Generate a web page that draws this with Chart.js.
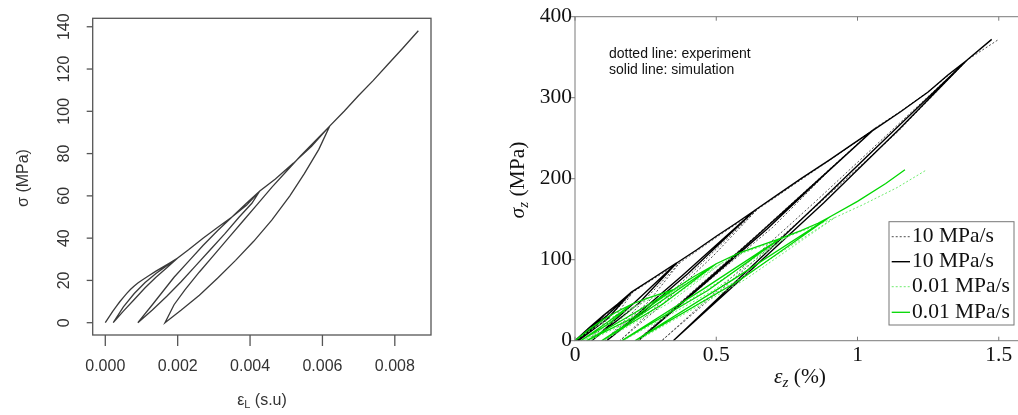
<!DOCTYPE html>
<html><head><meta charset="utf-8">
<script src="https://cdn.jsdelivr.net/npm/chart.js@4.4.0/dist/chart.umd.min.js"></script>
<style>
html,body{margin:0;padding:0;background:#fff;overflow:hidden;width:1018px;height:415px;}
#wrapL{position:absolute;left:0;top:0;width:460px;height:415px;}
#wrapR{position:absolute;left:500px;top:0;width:540px;height:415px;}
canvas{display:block;}
</style></head><body>
<div id="wrapL"><canvas id="left" width="460" height="415" style="width:460px;height:415px"></canvas></div>
<div id="wrapR"><canvas id="right" width="540" height="415" style="width:540px;height:415px"></canvas></div>
<script>
// ---------- LEFT PANEL DATA ----------
const leftStrain = [0,0.0001,0.0002,0.0003,0.0004,0.0005,0.0006,0.0007,0.0008,0.0009,0.001,0.0012,0.0014,0.0016,0.0018,0.002,
  0.0017,0.0014,0.0011,0.0008,0.0005,0.00022,
  0.0005,0.0008,0.0011,0.0014,0.0017,0.002,0.0023,0.0027,0.0031,0.0035,0.0039,0.00427,
  0.0039,0.0035,0.0031,0.0027,0.0023,0.0019,0.0016,0.0013,0.0009,
  0.0013,0.0017,0.0021,0.0025,0.0029,0.0033,0.0037,0.00405,0.00427,0.0047,0.0052,0.0057,0.0062,
  0.0058,0.0054,0.005,0.0046,0.0042,0.0038,0.0034,0.003,0.0026,0.0022,0.0019,0.00165,
  0.0021,0.0026,0.0031,0.0036,0.0041,0.0046,0.0051,0.0055,0.0059,0.0062,0.0066,0.007,0.0074,0.0078,0.0082,0.00865];
const leftStress = [0,2.6,5.2,7.6,9.9,12,14,15.8,17.4,18.8,20,22.2,24.4,26.4,28.5,30.6,
  27,23.3,19,13.8,7.5,0,
  5.5,11,16.5,21.5,26,30.6,34.5,40,45,50,55.5,62.3,
  56.5,50,43.5,36.5,29,21.5,15,8.5,0,
  6,12.5,19.5,27,34.5,42,50,56.5,62.3,68,75.5,83.5,93,
  86,79,71.5,64,56,48,40,32,24,15.5,8.5,0,
  6,13,21,29.5,38.5,48.5,60,70.5,82,93,100,107.5,114.5,122,129.5,138.1];
const leftXTicks = [0,0.002,0.004,0.006,0.008];
const leftXTickLabels = ['0.000','0.002','0.004','0.006','0.008'];
const leftYTicks = [0,20,40,60,80,100,120,140];

// ---------- RIGHT PANEL DATA ----------
const blackExpStrain = [0,0.05,0.105, 0.06,0.01, 0.065,0.105, 0.155,0.205, 0.13,0.047, 0.14,0.205, 0.29,0.37, 0.243,0.106,
  0.26,0.37, 0.44,0.51,0.58,0.645, 0.405,0.159, 0.3,0.49,0.645, 0.73,0.81,0.91,0.99,1.06, 0.645,0.218,
  0.46,0.7,0.9,1.06, 1.16,1.26,1.33,1.39, 0.855,0.307, 0.58,0.86,1.14,1.39,1.5];
const blackExpStress = [0,16,31, 16,0, 14,31, 45,60, 32,0, 29,60, 79,96, 49,0,
  48,96, 113,130,146,162, 81,0, 42,105,162, 182,201,225,244,262, 131,0,
  70,140,210,262, 285,310,330,347, 173,0, 82,168,257,347,372];
const blackSimStrain = [0,0.05,0.1, 0.058,0.005, 0.06,0.1, 0.15,0.2, 0.11,0.012, 0.115,0.2, 0.28,0.36, 0.214,0.059,
  0.225,0.36, 0.43,0.5,0.57,0.637, 0.38,0.112, 0.25,0.4,0.637, 0.72,0.8,0.9,0.98,1.056, 0.645,0.224,
  0.45,0.68,0.88,1.056, 1.15,1.25,1.32,1.386, 0.872,0.348, 0.6,0.88,1.15,1.386,1.475];
const blackSimStress = [0,16,31, 16,0, 14,31, 45,60, 30,0, 27,60, 78,96, 48,0,
  46,96, 112,129,145,161, 80.5,0, 38,83,161, 181,200,223,242,260, 130,0,
  68,138,204,260, 282,307,328,346, 173,0, 80,170,262,346,372];
const greenExpStrain = [0,0.06,0.12,0.18,0.22, 0.13,0.03, 0.14,0.22, 0.29,0.36, 0.21,0.05, 0.23,0.36, 0.44,0.52,
  0.32,0.1, 0.33,0.52, 0.6,0.68,0.75, 0.47,0.17, 0.49,0.75, 0.83,0.88,0.92, 0.58,0.22, 0.6,0.92,1.02,1.14,1.245];
const greenExpStress = [0,14,27,37,44, 22,0, 20,44, 55,64, 31,0, 30,64, 80,96,
  48,0, 46,96, 109,119,128, 64,0, 62,128, 139,146,152, 76,0, 75,152,168,189,211];
const greenSimStrain = [0,0.05,0.1,0.15,0.2, 0.116,0.02, 0.12,0.2, 0.27,0.348, 0.2,0.041, 0.21,0.348, 0.42,0.5,
  0.302,0.094, 0.31,0.5, 0.58,0.66,0.726, 0.455,0.165, 0.47,0.726, 0.8,0.86,0.903, 0.562,0.212, 0.58,0.903,1.0,1.1,1.168];
const greenSimStress = [0,14,26,36,45, 23,0, 21,45, 54,63, 32,0, 29,63, 79,95,
  48,0, 45,95, 108,118,126, 64,0, 62,126, 136,145,153, 76,0, 74,153,172,194,211];
const rightXTicks = [0,0.5,1,1.5];
const rightXTickLabels = ['0','0.5','1','1.5'];
const rightYTicks = [0,100,200,300,400];
const legendLabels = ['10 MPa/s','10 MPa/s','0.01 MPa/s','0.01 MPa/s'];
const noteLines = ['dotted line: experiment','solid line: simulation'];

const toPts = (xs, ys) => xs.map((x, i) => ({x: x, y: ys[i]}));
const SANS = '"Liberation Sans", Arial, sans-serif';
const SERIF = '"Liberation Serif", "Times New Roman", serif';

function seg(ctx, x1, y1, x2, y2) { ctx.beginPath(); ctx.moveTo(x1, y1); ctx.lineTo(x2, y2); ctx.stroke(); }

function drawPieces(ctx, pieces) {
  let w = 0;
  pieces.forEach(p => { ctx.font = p[1]; w += ctx.measureText(p[0]).width; });
  let x = -w / 2;
  ctx.textAlign = 'left';
  pieces.forEach(p => { ctx.font = p[1]; ctx.fillText(p[0], x, p[2]); x += ctx.measureText(p[0]).width; });
}

const leftAxes = {
  id: 'leftAxes',
  afterDraw(chart) {
    const ctx = chart.ctx, a = chart.chartArea, xs = chart.scales.x, ys = chart.scales.y;
    ctx.save();
    ctx.strokeStyle = '#555'; ctx.lineWidth = 1.3;
    ctx.strokeRect(a.left, a.top, a.right - a.left, a.bottom - a.top);
    ctx.fillStyle = '#333';
    ctx.textBaseline = 'middle';
    leftXTicks.forEach((v, i) => {
      const px = xs.getPixelForValue(v);
      seg(ctx, px, a.bottom, px, a.bottom + 11);
      ctx.font = '16px ' + SANS; ctx.textAlign = 'center';
      ctx.fillText(leftXTickLabels[i], px, 367);
    });
    leftYTicks.forEach(v => {
      const py = ys.getPixelForValue(v);
      seg(ctx, a.left - 6, py, a.left, py);
      ctx.save(); ctx.translate(64.5, py); ctx.rotate(-Math.PI / 2);
      ctx.font = '16px ' + SANS; ctx.textAlign = 'center';
      ctx.fillText(String(v), 0, 0); ctx.restore();
    });
    ctx.save(); ctx.translate(24, 178); ctx.rotate(-Math.PI / 2);
    drawPieces(ctx, [['σ (MPa)', '16px ' + SANS, 0]]);
    ctx.restore();
    ctx.save(); ctx.translate(262, 401);
    drawPieces(ctx, [['ε', '16px ' + SANS, 0], ['L', '11px ' + SANS, 4], [' (s.u)', '16px ' + SANS, 0]]);
    ctx.restore();
    ctx.restore();
  }
};

new Chart(document.getElementById('left'), {
  type: 'scatter',
  data: { datasets: [{ data: toPts(leftStrain, leftStress), showLine: true, borderColor: '#3a3a3a', borderWidth: 1.3,
    pointRadius: 0, tension: 0, fill: false }] },
  options: {
    responsive: false, animation: false, events: [],
    layout: { padding: { left: 92.7, top: 18.3, right: 29, bottom: 80 } },
    plugins: { legend: { display: false }, tooltip: { enabled: false } },
    scales: {
      x: { type: 'linear', display: false, min: -0.000348, max: 0.009 },
      y: { type: 'linear', display: false, min: -5.82, max: 144 }
    }
  },
  plugins: [leftAxes]
});

const seriesStyles = [
  { color: 'rgba(60,60,60,0.9)', width: 1, dash: [2, 2] },
  { color: '#000', width: 1.4, dash: [] },
  { color: 'rgb(110,235,110)', width: 1, dash: [2, 2] },
  { color: 'rgb(0,215,0)', width: 1.3, dash: [] }
];

const rightAxes = {
  id: 'rightAxes',
  afterDraw(chart) {
    const ctx = chart.ctx, a = chart.chartArea, xs = chart.scales.x, ys = chart.scales.y;
    ctx.save();
    ctx.strokeStyle = '#7a7a7a'; ctx.lineWidth = 1;
    ctx.strokeRect(a.left, a.top, a.right - a.left, a.bottom - a.top);
    ctx.fillStyle = '#111'; ctx.textBaseline = 'middle';
    rightXTicks.forEach((v, i) => {
      const px = xs.getPixelForValue(v);
      seg(ctx, px, a.bottom, px, a.bottom - 4);
      seg(ctx, px, a.top, px, a.top + 4);
      ctx.font = '21.5px ' + SERIF; ctx.textAlign = 'center';
      ctx.fillText(rightXTickLabels[i], px, 355);
    });
    rightYTicks.forEach(v => {
      const py = ys.getPixelForValue(v);
      seg(ctx, a.left - 4, py, a.left, py);
      ctx.font = '21.5px ' + SERIF; ctx.textAlign = 'right';
      ctx.fillText(String(v), 72, py);
    });
    ctx.save(); ctx.translate(18, 180); ctx.rotate(-Math.PI / 2);
    drawPieces(ctx, [['σ', 'italic 21.5px ' + SERIF, 0], ['z', 'italic 15px ' + SERIF, 6], [' (MPa)', '21.5px ' + SERIF, 0]]);
    ctx.restore();
    ctx.save(); ctx.translate(300, 377);
    drawPieces(ctx, [['ε', 'italic 21.5px ' + SERIF, 0], ['z', 'italic 15px ' + SERIF, 6], [' (%)', '21.5px ' + SERIF, 0]]);
    ctx.restore();
    ctx.font = '14px ' + SANS; ctx.textAlign = 'left'; ctx.fillStyle = '#111';
    ctx.fillText(noteLines[0], 109, 54);
    ctx.fillText(noteLines[1], 109, 70.5);
    ctx.fillStyle = '#fff'; ctx.fillRect(389, 221.7, 125, 103.3);
    ctx.strokeStyle = '#777'; ctx.lineWidth = 1; ctx.strokeRect(389, 221.7, 125, 103.3);
    const rows = [236.7, 261.7, 286.7, 312.3];
    legendLabels.forEach((lab, i) => {
      const st = seriesStyles[i];
      ctx.strokeStyle = st.color; ctx.lineWidth = st.width; ctx.setLineDash(st.dash);
      seg(ctx, 391.7, rows[i], 410, rows[i]);
      ctx.setLineDash([]);
      ctx.fillStyle = '#111'; ctx.font = '21.5px ' + SERIF; ctx.textAlign = 'left';
      ctx.fillText(lab, 412, rows[i]);
    });
    ctx.restore();
  }
};

function ds(xs, ys, st) {
  return { data: toPts(xs, ys), showLine: true, borderColor: st.color, borderWidth: st.width, borderDash: st.dash,
    pointRadius: 0, tension: 0, fill: false };
}

new Chart(document.getElementById('right'), {
  type: 'scatter',
  data: { datasets: [
    ds(greenSimStrain, greenSimStress, seriesStyles[3]),
    ds(greenExpStrain, greenExpStress, seriesStyles[2]),
    ds(blackSimStrain, blackSimStress, seriesStyles[1]),
    ds(blackExpStrain, blackExpStress, seriesStyles[0])
  ] },
  options: {
    responsive: false, animation: false, events: [],
    layout: { padding: { left: 75, top: 16.7, right: 13, bottom: 74.3 } },
    plugins: { legend: { display: false }, tooltip: { enabled: false } },
    scales: {
      x: { type: 'linear', display: false, min: 0, max: 1.6 },
      y: { type: 'linear', display: false, min: 0, max: 400 }
    }
  },
  plugins: [rightAxes]
});
</script></body></html>
